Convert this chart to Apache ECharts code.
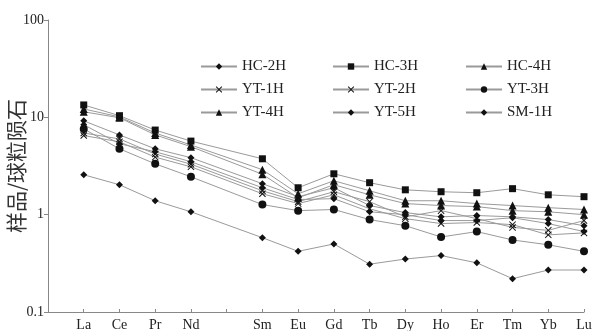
<!DOCTYPE html>
<html>
<head>
<meta charset="utf-8">
<script src="https://cdn.jsdelivr.net/npm/echarts@6/dist/echarts.min.js"></script>
<style>
  html, body { margin: 0; padding: 0; background: #fff; }
  #chart { width: 598px; height: 331px; }
</style>
</head>
<body>
<div id="chart"></div>
<script>
// x slots: blank start, then REE with an empty slot for Pm
const categories = ['', 'La', 'Ce', 'Pr', 'Nd', '', 'Sm', 'Eu', 'Gd', 'Tb', 'Dy', 'Ho', 'Er', 'Tm', 'Yb', 'Lu'];
const elementSlots = [1, 2, 3, 4, 6, 7, 8, 9, 10, 11, 12, 13, 14, 15];
const yTicks = [0.1, 1, 10, 100];

const hc2h = [9.2, 6.6, 4.75, 3.85, 2.08, 1.53, 1.89, 1.24, 1.05, 0.95, 0.98, 0.95, 0.89, 0.77];
const hc3h = [13.4, 10.4, 7.4, 5.7, 3.75, 1.89, 2.63, 2.13, 1.8, 1.72, 1.68, 1.85, 1.6, 1.53];
const hc4h = [12.2, 10.1, 6.9, 5.2, 2.9, 1.64, 2.23, 1.76, 1.39, 1.39, 1.3, 1.24, 1.18, 1.13];
const yt1h = [6.9, 6.0, 4.2, 3.3, 1.76, 1.36, 1.72, 1.36, 0.95, 1.1, 0.91, 0.74, 0.69, 0.87];
const yt2h = [6.5, 5.6, 3.9, 3.1, 1.64, 1.3, 1.6, 1.15, 0.91, 0.81, 0.83, 0.79, 0.62, 0.65];
const yt3h = [7.6, 4.75, 3.33, 2.45, 1.27, 1.1, 1.13, 0.89, 0.77, 0.59, 0.67, 0.55, 0.49, 0.42];
const yt4h = [11.4, 9.9, 6.6, 5.0, 2.6, 1.49, 2.03, 1.6, 1.3, 1.24, 1.21, 1.1, 1.07, 1.0];
const yt5h = [8.4, 5.35, 4.43, 3.5, 1.89, 1.43, 1.46, 1.07, 1.0, 0.87, 0.87, 0.93, 0.81, 0.67];
const sm1h = [2.57, 2.03, 1.39, 1.07, 0.58, 0.42, 0.5, 0.31, 0.35, 0.38, 0.32, 0.22, 0.27, 0.27];

const crossPath = 'path://M0,1L1,0L5,4L9,0L10,1L6,5L10,9L9,10L5,6L1,10L0,9L4,5Z';

function makeSeries(name, values, symbol, size) {
    return {
        name: name,
        type: 'line',
        data: values.map((v, i) => [elementSlots[i], v]),
        symbol: symbol,
        symbolSize: size,
        lineStyle: { color: '#9a9a9a', width: 1 },
        itemStyle: { color: '#111' },
        emphasis: { disabled: true },
    };
}

const serif = '"Liberation Serif", "Times New Roman", serif';

function legendCol(left, names) {
    return {
        orient: 'vertical',
        left: left,
        top: 59,
        padding: 0,
        itemWidth: 36,
        itemHeight: 8,
        itemGap: 8,
        data: names,
        textStyle: { fontFamily: serif, fontSize: 15, color: '#222' },
    };
}

const chart = echarts.init(document.getElementById('chart'));
const option = {
    backgroundColor: '#fff',
    animation: false,
    grid: { left: 48, right: 14, top: 20, bottom: 19, outerBoundsMode: 'none', containLabel: false },
    legend: [
        legendCol(200, ['HC-2H', 'YT-1H', 'YT-4H']),
        legendCol(332, ['HC-3H', 'YT-2H', 'YT-5H']),
        legendCol(465, ['HC-4H', 'YT-3H', 'SM-1H']),
    ],
    xAxis: {
        type: 'category',
        data: categories,
        boundaryGap: false,
        axisLine: { lineStyle: { color: '#888' } },
        axisTick: { inside: true, length: 3, lineStyle: { color: '#888' } },
        axisLabel: { interval: 0, margin: 6, fontFamily: serif, fontSize: 14, color: '#222' },
    },
    yAxis: {
        type: 'log',
        logBase: 10,
        min: 0.1,
        max: 100,
        name: '样品/球粒陨石',
        nameLocation: 'middle',
        nameRotate: 90,
        nameGap: 21,
        nameMoveOverlap: false,
        nameTextStyle: { fontFamily: '"Noto Sans CJK SC"', fontSize: 21, color: '#333' },
        axisLine: { show: true, lineStyle: { color: '#888' } },
        axisTick: { show: true, length: 4, lineStyle: { color: '#888' } },
        splitLine: { show: false },
        axisLabel: {
            margin: 4,
            fontFamily: serif,
            fontSize: 14,
            color: '#222',
            formatter: (v) => yTicks.find(t => Math.abs(t - v) < 1e-6 * v) !== undefined ? String(+v.toPrecision(3)) : '',
        },
    },
    series: [
        makeSeries('HC-2H', hc2h, 'diamond', 7),
        makeSeries('HC-3H', hc3h, 'rect', 7),
        makeSeries('HC-4H', hc4h, 'triangle', 8),
        makeSeries('YT-1H', yt1h, crossPath, 7),
        makeSeries('YT-2H', yt2h, crossPath, 7),
        makeSeries('YT-3H', yt3h, 'circle', 8),
        makeSeries('YT-4H', yt4h, 'triangle', 8),
        makeSeries('YT-5H', yt5h, 'diamond', 7),
        makeSeries('SM-1H', sm1h, 'diamond', 7),
    ],
};
chart.setOption(option);
</script>
</body>
</html>
